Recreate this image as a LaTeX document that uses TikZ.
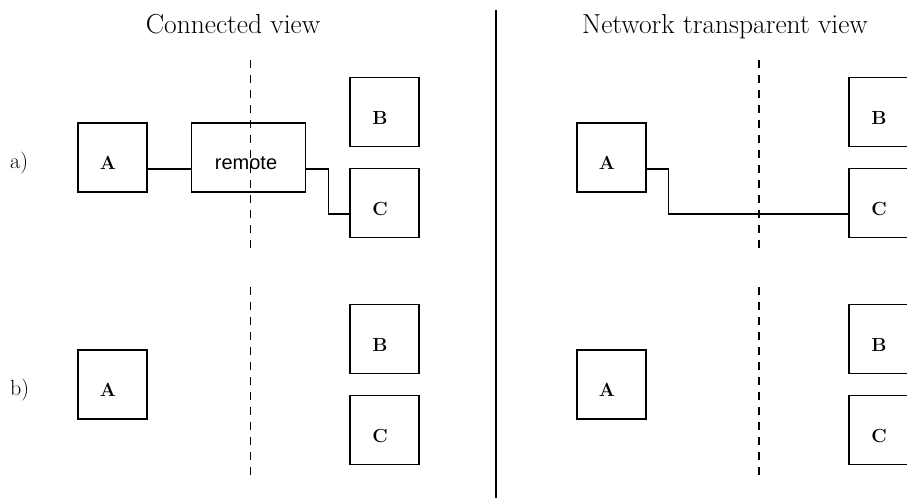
\documentclass[tikz,border=0pt]{standalone}
\usepackage{fontspec}
\newfontfamily\remfont{Liberation Sans}
\usetikzlibrary{calc}
\begin{document}
\begin{tikzpicture}[x=1pt,y=-1pt,
  box/.style={draw, line width=1.3pt, minimum width=69pt, minimum height=69pt, inner sep=0pt},
  lab/.style={inner sep=0pt, font=\fontsize{19}{22}\selectfont\bfseries, xshift=-4.5pt, yshift=-5.5pt},
  title/.style={anchor=base, inner sep=0pt, font=\fontsize{27.5}{32}\selectfont},
  rowlab/.style={anchor=base west, inner sep=0pt, font=\fontsize{22}{26}\selectfont},
  conn/.style={draw, line width=1.3pt},
  sep/.style={draw, line width=1.3pt, dash pattern=on 8pt off 7pt},
  divider/.style={draw, line width=1.6pt}]
\useasboundingbox (0,0) rectangle (907,498);

% titles
\node[title] (t1) at (233,33) {Connected view};
\node[title] (t2) at (725,33) {Network transparent view};
\node[rowlab] (ra) at (10,168) {a)};
\node[rowlab] (rb) at (10,395) {b)};

% divider and network boundaries
\coordinate (dv1) at (495.7,10);
\coordinate (dv2) at (495.7,498);
\draw[divider] (dv1) -- (dv2);
\coordinate (s1a) at (250.7,60);  \coordinate (s1b) at (250.7,251);
\coordinate (s2a) at (250.7,287); \coordinate (s2b) at (250.7,478);
\coordinate (s3a) at (759,60);    \coordinate (s3b) at (759,251);
\coordinate (s4a) at (759,287);   \coordinate (s4b) at (759,478);
\draw[sep] (s1a) -- (s1b);
\draw[sep] (s2a) -- (s2b);
\draw[sep] (s3a) -- (s3b);
\draw[sep] (s4a) -- (s4b);

% connected view, a)
\node[box, label={[lab]center:A}] (aA) at (112.5,157.5) {};
\node[box, minimum width=114pt, label={[lab, font=\fontsize{20}{24}\selectfont\remfont, xshift=2pt, yshift=-0.5pt]center:remote}] (rem) at (248.5,157.5) {};
\node[box, label={[lab]center:B}] (aB) at (384.5,112) {};
\node[box, label={[lab]center:C}] (aC) at (384.5,203) {};
\draw[conn] ([yshift=-11.5pt]aA.east) -- ([yshift=-11.5pt]rem.west);
\draw[conn] ([yshift=-11.5pt]rem.east) -- ++(22,0) |- ([yshift=-11pt]aC.west);

% connected view, b)
\node[box, label={[lab]center:A}] (bA) at (112.5,384.5) {};
\node[box, label={[lab]center:B}] (bB) at (384.5,339) {};
\node[box, label={[lab]center:C}] (bC) at (384.5,430) {};

% network transparent view, a)
\node[box, label={[lab]center:A}] (nA) at (611.5,157.5) {};
\node[box, label={[lab]center:B}] (nB) at (883.5,112) {};
\node[box, label={[lab]center:C}] (nC) at (883.5,203) {};
\draw[conn] ([yshift=-11.5pt]nA.east) -- ++(22,0) |- ([yshift=-11pt]nC.west);

% network transparent view, b)
\node[box, label={[lab]center:A}] (mA) at (611.5,384.5) {};
\node[box, label={[lab]center:B}] (mB) at (883.5,339) {};
\node[box, label={[lab]center:C}] (mC) at (883.5,430) {};
\end{tikzpicture}
\end{document}
